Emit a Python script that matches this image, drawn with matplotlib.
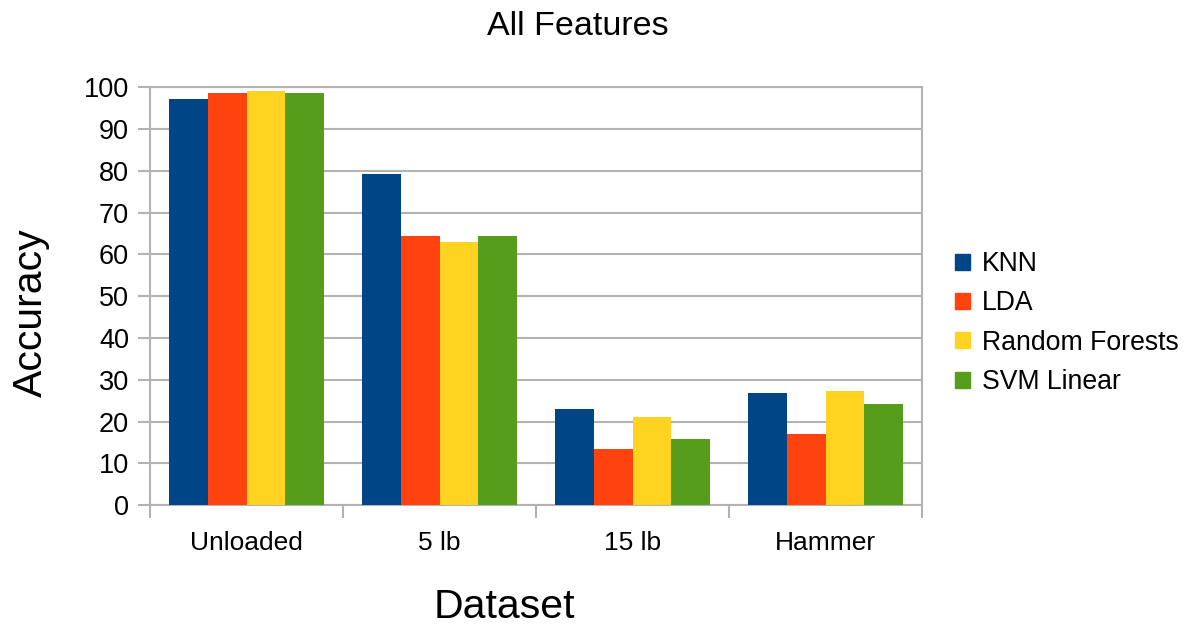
"""Grouped bar chart: classifier accuracy per dataset, all features."""

import numpy as np
import matplotlib.pyplot as plt
from matplotlib.patches import Patch

plt.rcParams["font.family"] = ["Liberation Sans", "DejaVu Sans"]

datasets = ["Unloaded", "5 lb", "15 lb", "Hammer"]
classifiers = ["KNN", "LDA", "Random Forests", "SVM Linear"]
knn = [97.2, 79.3, 22.9, 26.9]
lda = [98.7, 64.4, 13.5, 17.1]
random_forests = [99.2, 63.0, 21.1, 27.3]
svm_linear = [98.8, 64.4, 15.9, 24.1]
y_ticks = list(range(0, 101, 10))

colors = ["#004586", "#ff420e", "#ffd320", "#579d1c"]
grid_col = "#b3b3b3"

fig = plt.figure(figsize=(11.85, 6.25), dpi=100)
ax = fig.add_axes([0.1266, 0.192, 0.6515, 0.668])

x = np.arange(len(datasets))
width = 0.2
for i, vals in enumerate([knn, lda, random_forests, svm_linear]):
    ax.bar(x + (i - 1.5) * width, vals, width, color=colors[i], zorder=3)

ax.set_xlim(-0.5, len(datasets) - 0.5)
ax.set_ylim(0, 100)
ax.set_yticks(y_ticks)
ax.yaxis.grid(True, color=grid_col, linewidth=1.5, zorder=0)

# category boundaries get the tick marks, names sit between them
ax.set_xticks(np.arange(len(datasets) + 1) - 0.5)
ax.set_xticklabels([])
ax.set_xticks(x, minor=True)
ax.set_xticklabels(datasets, minor=True)
ax.tick_params(axis="x", which="minor", length=0, pad=19, labelsize=19)
ax.tick_params(axis="x", which="major", length=9, width=1.5, color=grid_col)
ax.tick_params(axis="y", length=9, width=1.5, color=grid_col, pad=6, labelsize=19.5)

for sp in ax.spines.values():
    sp.set_color(grid_col)
    sp.set_linewidth(1.5)

# titles are placed on the figure, not centred on the axes
fig.text(0.488, 0.958, "All Features", fontsize=24.5, ha="center", va="center")
fig.text(0.426, 0.028, "Dataset", fontsize=29.5, ha="center", va="center")
fig.text(0.026, 0.499, "Accuracy", fontsize=29.5, ha="center", va="center",
         rotation=90)

handles = [Patch(color=c) for c in colors]
fig.legend(handles, classifiers, loc="center left", bbox_to_anchor=(0.786, 0.483),
           frameon=False, fontsize=19.2, handlelength=0.55, handleheight=0.55,
           handletextpad=0.45, labelspacing=0.5)

fig.savefig("out.png", dpi=100)
